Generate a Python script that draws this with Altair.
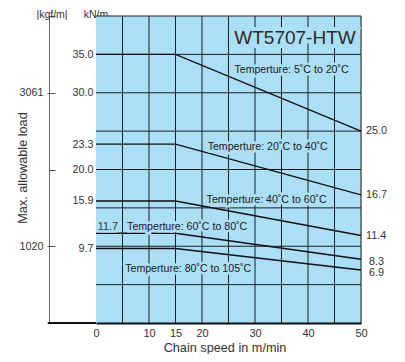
import altair as alt
import pandas as pd

# ---------------- data ----------------
series = ["5-20", "20-40", "40-60", "60-80", "80-105"]
knee_speed = 15
max_speed = 50
start_load = [35.0, 23.3, 15.9, 11.7, 9.7]   # kN/m from 0 to 15 m/min
end_load = [25.0, 16.7, 11.4, 8.3, 6.9]      # kN/m at 50 m/min

x_tick_labels = [0, 10, 15, 20, 30, 40, 50]
x_grid = [5, 10, 15, 20, 25, 30, 35, 40, 45, 50]
y_grid = [5, 10, 15, 20, 25, 30, 35, 40]
y_tick_labels = [35.0, 30.0, 23.3, 20.0, 15.9, 9.7]
kgf_ticks = [10, 20, 30, 40]          # positions on kN/m scale
kgf_labelled = [10, 30]               # 1020 and 3061 kgf/m

temp_text = ["Temperture: 5˚C to 20˚C", "Temperture: 20˚C to 40˚C",
             "Temperture: 40˚C to 60˚C", "Temperture: 60˚C to 80˚C",
             "Temperture: 80˚C to 105˚C"]
temp_x = [36.9, 32.4, 32.2, 17.2, 17.4]
temp_y = [32.95, 22.95, 16.0, 12.55, 7.05]

BG = "#aadff6"
GRID = "#1e1e1e"
TXT = "#333333"
FONT = "Liberation Sans"

W, H = 265, 307

# ---------------- tables ----------------
rows = []
for s, a, b in zip(series, start_load, end_load):
    rows += [{"s": s, "x": 0, "y": a, "o": 0},
             {"s": s, "x": knee_speed, "y": a, "o": 1},
             {"s": s, "x": max_speed, "y": b, "o": 2}]
df_lines = pd.DataFrame(rows)
df_bg = pd.DataFrame({"x0": [0], "x1": [50], "y0": [0], "y1": [40]})
df_gv = pd.DataFrame({"x": x_grid, "y0": 0, "y1": 40})
df_gh = pd.DataFrame({"y": y_grid, "x0": 0, "x1": 50})
df_ext = pd.DataFrame({"x0": [-9.1], "x1": [0], "y": [0]})
df_temp = pd.DataFrame({"t": temp_text, "x": temp_x, "y": temp_y})
df_end_a = pd.DataFrame({"x": max_speed, "y": end_load[:3]})
df_end_b = pd.DataFrame({"x": max_speed, "y": end_load[3:]})
df_117 = pd.DataFrame({"x": [0.35], "y": [12.55], "t": ["11.7"]})
df_title = pd.DataFrame({"x": [49.0], "y": [37.1], "t": ["WT5707-HTW"]})
df_cy = pd.DataFrame({"y": [0, 40]})
df_cx = pd.DataFrame({"x": [0, 50]})

xs = alt.Scale(domain=[0, 50], nice=False, zero=False)
ys = alt.Scale(domain=[0, 40], nice=False, zero=False)

def X(f, axis=None):
    return alt.X(f, type="quantitative", scale=xs, axis=axis)

def Y(f, axis=None):
    return alt.Y(f, type="quantitative", scale=ys, axis=axis)

bg = alt.Chart(df_bg).mark_rect(color=BG).encode(
    x=X("x0"), x2="x1", y=Y("y0"), y2="y1")
grid_v = alt.Chart(df_gv).mark_rule(color=GRID, strokeWidth=1).encode(
    x=X("x"), y=Y("y0"), y2="y1")
grid_h = alt.Chart(df_gh).mark_rule(color=GRID, strokeWidth=1).encode(
    y=Y("y"), x=X("x0"), x2="x1")
ext = alt.Chart(df_ext).mark_rule(color="#111111", strokeWidth=2).encode(
    x=X("x0"), x2="x1", y=Y("y"))

x_axis = alt.Axis(orient="bottom", values=x_tick_labels, grid=False,
                  ticks=False, domain=True, zindex=2, labelFlush=False,
                  labelOverlap=False,
                  domainColor="#111111", domainWidth=2, labelPadding=4,
                  labelFontSize=11, labelColor=TXT, labelFont=FONT,
                  title="Chain speed in m/min", titleFontSize=12.7,
                  titleFontWeight="normal", titleColor=TXT, titleFont=FONT,
                  titleX=128.5, titleY=24, titleAlign="center",
                  titleBaseline="middle")
lines = alt.Chart(df_lines).mark_line(color="#111111", strokeWidth=1.4).encode(
    x=X("x"), y=Y("y"), detail="s:N", order="o:Q")

main_axis = alt.Axis(orient="left", values=y_tick_labels, format=".1f",
                     domain=False, ticks=False, grid=False, labelOverlap=False,
                     labelPadding=3, labelFontSize=10.8, labelColor=TXT,
                     labelFont=FONT, title="kN/m", titleAngle=0,
                     titleX=-0.5, titleY=1.5, titleAlign="center",
                     titleBaseline="alphabetic", titleFontSize=10.5,
                     titleFontWeight="normal", titleColor=TXT, titleFont=FONT)
kgf_axis = alt.Axis(orient="left", offset=47, values=kgf_labelled,
                    labelExpr="datum.value == 30 ? '3061' : '1020'",
                    tickSize=2, tickColor="#555555", domainColor="#666666",
                    grid=False, labelPadding=4, labelFontSize=10.8,
                    labelColor=TXT, labelFont=FONT,
                    title="Max. allowable load", titleAngle=-90,
                    titleX=-27, titleY=151.5, titleAlign="center",
                    titleBaseline="middle", titleFontSize=12.7,
                    titleFontWeight="normal", titleColor=TXT, titleFont=FONT)
tick_axis = alt.Axis(orient="left", offset=41, values=kgf_ticks, domain=False,
                     labels=False, tickSize=6, tickColor="#555555", grid=False,
                     title="|kgf/m|", titleAngle=0, titleX=-3.5, titleY=1.5,
                     titleAlign="center", titleBaseline="alphabetic",
                     titleFontSize=10.5, titleFontWeight="normal",
                     titleColor=TXT, titleFont=FONT)

ax_x = alt.Chart(df_cx).mark_point(opacity=0).encode(x=X("x", x_axis))
ax_main = alt.Chart(df_cy).mark_point(opacity=0).encode(y=Y("y", main_axis))
ax_kgf = alt.Chart(df_cy).mark_point(opacity=0).encode(y=Y("y", kgf_axis))
ax_tick = alt.Chart(df_cy).mark_point(opacity=0).encode(y=Y("y", tick_axis))

def text_pair(df, stroke_w, **kw):
    base = alt.Chart(df).encode(x=X("x"), y=Y("y"), text="t:N")
    back = base.mark_text(stroke=BG, strokeWidth=stroke_w, fill=BG,
                          font=FONT, **kw)
    front = base.mark_text(font=FONT, **kw)
    return back, front

tb, tf = text_pair(df_temp, 5, fontSize=10.6, color="#1a1a1a",
                   align="center", baseline="middle")
nb, nf = text_pair(df_117, 5, fontSize=10.8, color=TXT,
                   align="left", baseline="middle")
hb, hf = text_pair(df_title, 8, fontSize=19, color="#2b2b2b",
                   align="right", baseline="middle")

end_a = alt.Chart(df_end_a).mark_text(font=FONT, fontSize=10.8, color=TXT,
                                       align="left", baseline="middle", dx=5).encode(
    x=X("x"), y=Y("y"), text=alt.Text("y:Q", format=".1f"))
end_b = alt.Chart(df_end_b).mark_text(font=FONT, fontSize=10.8, color=TXT,
                                       align="left", baseline="middle", dx=8, dy=2.5).encode(
    x=X("x"), y=Y("y"), text=alt.Text("y:Q", format=".1f"))

chart = alt.layer(
    bg, grid_v, grid_h, ext, lines, ax_x, ax_main, ax_kgf, ax_tick,
    tb, nb, hb, tf, nf, hf, end_a, end_b
).resolve_axis(x="independent", y="independent").properties(
    width=W, height=H,
    autosize=alt.AutoSizeParams(type="none"),
    padding={"left": 88, "top": 8, "right": 36, "bottom": 31},
).configure_view(strokeWidth=0).configure(background="white")

chart.save("out.html", embed_options={"renderer": "svg", "actions": False})
